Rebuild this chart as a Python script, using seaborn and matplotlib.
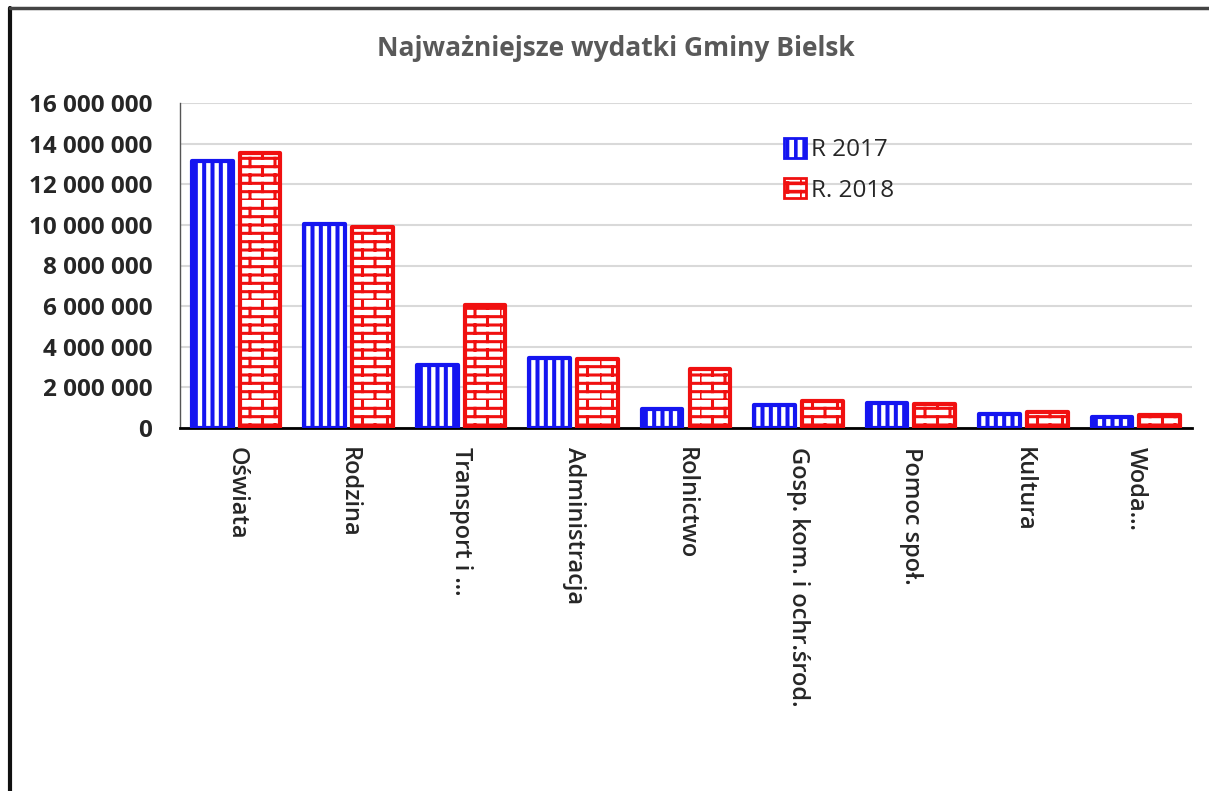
import warnings
import numpy as np
import pandas as pd
import seaborn as sns
import matplotlib
import matplotlib.pyplot as plt
import matplotlib.hatch as mhatch
from matplotlib.path import Path
from matplotlib.patches import Patch
from matplotlib.lines import Line2D

warnings.filterwarnings("ignore")
matplotlib.use("Agg")

# data
categories = ["Oświata", "Rodzina", "Transport i ...", "Administracja", "Rolnictwo",
              "Gosp. kom. i ochr.środ.", "Pomoc społ.", "Kultura", "Woda..."]
values_2017 = [13150000, 10050000, 3100000, 3450000, 940000, 1150000, 1250000, 700000, 520000]
values_2018 = [13550000, 9900000, 6050000, 3400000, 2900000, 1330000, 1200000, 780000, 640000]
series = ["R 2017", "R. 2018"]
colors = ["#1515f0", "#f01010"]


# brick hatch pattern ('b'), not available in matplotlib by default
class BrickHatch(mhatch.HatchPatternBase):
    rows = 12
    bricks = 4

    def __init__(self, hatch, density):
        self.on = hatch.count("b") > 0
        n = self.rows * 2 + self.rows * self.bricks * 2
        self.num_vertices = n if self.on else 0

    def set_vertices_and_codes(self, vertices, codes):
        v = []
        h = 1.0 / self.rows
        for k in range(self.rows):
            y = k * h
            v += [(0.0, y), (1.0, y)]
        for k in range(self.rows):
            off = 0.5 * (k % 2) / self.bricks
            for j in range(self.bricks):
                x = j / self.bricks + off
                v += [(x, k * h), (x, (k + 1) * h)]
        vertices[:] = np.array(v)
        codes[0::2] = Path.MOVETO
        codes[1::2] = Path.LINETO


mhatch._hatch_types.append(BrickHatch)

sns.set_style("white")
plt.rcParams["font.family"] = ["Open Sans", "DejaVu Sans"]
plt.rcParams["hatch.linewidth"] = 2.6

df = pd.DataFrame({
    "kategoria": categories * 2,
    "wartosc": values_2017 + values_2018,
    "rok": [series[0]] * len(categories) + [series[1]] * len(categories),
})

fig = plt.figure(figsize=(12.09, 7.91), dpi=100)
ax = fig.add_axes([180 / 1209, 1 - 428 / 791, 1012 / 1209, 325 / 791])

sns.barplot(data=df, x="kategoria", y="wartosc", hue="rok", palette=colors,
            width=0.85, gap=0.15, legend=False, ax=ax, zorder=3)

hatches = ["||", "b"]
for cont, col, hat in zip(ax.containers, colors, hatches):
    for p in cont:
        p.set_facecolor("white")
        p.set_edgecolor(col)
        p.set_linewidth(3)
        p.set_joinstyle("round")
        p.set_hatch(hat)
        if hasattr(p, "set_hatch_linewidth"):
            p.set_hatch_linewidth(2.9 if hat == "||" else 2.2)

ax.set_ylim(0, 16000000)
ax.set_yticks(np.arange(0, 16000001, 2000000))
ax.yaxis.set_major_formatter(plt.FuncFormatter(lambda v, _: f"{int(v):,}".replace(",", " ")))
ax.grid(axis="y", color="#d9d9d9", linewidth=1.5, zorder=0)
ax.set_axisbelow(True)
ax.set_xlabel("")
ax.set_ylabel("")

for s in ["top", "right"]:
    ax.spines[s].set_visible(False)
ax.spines["left"].set_color("#555555")
ax.spines["left"].set_linewidth(1)
ax.spines["bottom"].set_color("black")
ax.spines["bottom"].set_linewidth(2)

ax.tick_params(axis="y", length=0, pad=20, labelsize=17.5)
ax.tick_params(axis="x", length=0, pad=14, labelsize=17)
for t in ax.get_yticklabels():
    t.set_fontweight("bold")
for t in ax.get_xticklabels():
    t.set_rotation(270)
    t.set_fontweight("semibold")
    t.set_va("top")
    t.set_ha("center")

handles = [Patch(facecolor="white", edgecolor=c, hatch=h, linewidth=2) for c, h in zip(colors, hatches)]
ax.legend(handles, series, loc="upper left", bbox_to_anchor=(0.585, 0.93), frameon=False,
          fontsize=17.5, handlelength=0.9, handleheight=0.9, handletextpad=0.2,
          labelspacing=0.65, borderpad=0)

fig.suptitle("Najważniejsze wydatki Gminy Bielsk", x=616 / 1209, y=1 - 48 / 791,
             va="center", fontsize=19, fontweight="bold", color="#595959")

# outer frame (left and top edges)
fig.add_artist(Line2D([10 / 1209, 10 / 1209], [0, 1 - 8 / 791], color="#111111", linewidth=3))
fig.add_artist(Line2D([10 / 1209, 1], [1 - 8 / 791, 1 - 8 / 791], color="#444444", linewidth=2.5))

fig.savefig("out.png", dpi=100)
